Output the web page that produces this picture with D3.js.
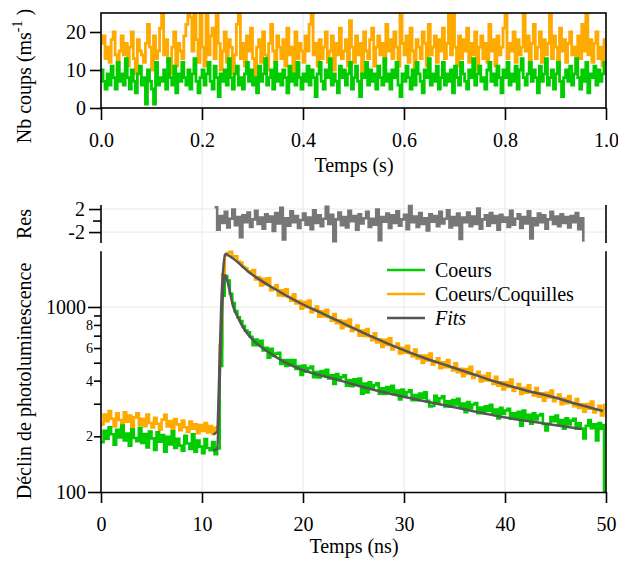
<!DOCTYPE html>
<html><head><meta charset="utf-8">
<script src="https://cdn.jsdelivr.net/npm/d3@7"></script>
<style>
body{margin:0;background:#fff}
svg{display:block}
text{font-family:"Liberation Serif","Times New Roman",serif;fill:#000}
</style>
</head><body>
<svg id="c" width="618" height="567"></svg>
<script>
// ---------- DATA ----------
// Top panel: intensity trace (counts per ms), bins of 4 ms from 0 to 1 s
const traceStepS = 0.004;
const traceOrange = [
17,19,13,16,12,18,20,14,10,15,
19,14,17,11,16,20,13,9,18,15,
14,12,17,22,16,10,19,13,15,21,
25,14,18,12,9,16,20,11,17,15,
13,19,22,25,24,15,25,18,12,25,
16,11,25,14,19,21,13,25,17,10,
15,20,12,18,16,9,14,22,25,13,
17,11,19,15,21,13,8,16,18,12,
20,14,10,17,22,15,12,19,16,13,
18,11,21,14,16,9,20,13,17,15,
12,19,15,22,25,14,17,11,18,13,
16,20,12,15,19,10,17,14,21,13,
15,18,11,23,16,12,19,14,17,9,
20,15,13,18,21,11,16,19,14,17,
12,22,15,18,13,20,16,11,25,17,
14,19,12,21,15,10,18,16,13,20,
17,11,22,14,16,19,12,18,15,21,
13,17,25,14,25,16,11,19,13,18,
15,21,12,17,14,20,10,16,19,13,
17,12,22,15,18,11,19,14,16,21,
25,13,17,15,20,12,18,14,16,25,
15,19,11,17,22,13,16,20,12,18,
14,17,25,13,19,16,11,21,15,18,
12,17,20,14,16,9,19,13,22,15,
25,14,18,12,17,20,13,16,11,18,
15];
const traceGreen = [
10,7,5,9,6,11,8,5,12,7,
9,6,13,8,5,10,7,4,9,11,
6,8,1,10,7,5,1,12,6,8,
7,10,5,13,8,6,11,4,9,7,
12,8,6,10,5,9,13,7,4,8,
10,6,9,12,7,5,11,8,3,9,
7,10,6,13,8,5,9,11,6,8,
5,9,12,7,10,6,8,4,11,7,
9,13,6,8,10,5,12,7,9,6,
10,8,4,11,7,9,6,12,8,5,
9,7,11,6,10,8,3,9,12,7,
5,10,8,13,6,9,7,4,11,8,
10,6,9,12,5,8,11,7,3,9,
8,12,6,10,7,9,5,11,8,6,
13,7,9,5,10,8,12,6,3,9,
7,11,8,5,10,6,12,9,7,4,
10,8,13,6,9,7,11,5,8,12,
6,9,7,10,4,11,8,6,12,9,
7,5,10,8,13,6,9,11,7,8,
5,10,12,7,9,6,11,8,4,10,
8,12,6,9,7,11,5,10,13,8,
6,9,12,7,10,8,4,11,7,9,
13,6,8,10,5,9,12,7,3,8,
10,7,11,6,9,13,8,5,10,7,
12,4,9,8,11,6,10,7,9,12,
11];
const traceTicks = [0, 0.2, 0.4, 0.6, 0.8, 1.0];
const traceYTicks = [0, 10, 20];

// Decay panel: counts per 0.25 ns bin, from 0 to 50 ns
const decayStepNs = 0.25;
const decayOrange = [
232,262,241,274,249,226,266,245,234,270,
240,259,224,253,266,231,249,227,262,236,
223,252,234,217,246,261,226,242,219,248,
232,216,243,224,211,240,220,232,208,230,
214,236,210,227,206,222,
225,620,1500,1900,1960,1990,1870,1880,1760,1740,1650,1620,1560,1530,
1585,1407,1451,1309, 1421,1325,1431,1232, 1270,1311,1154,1230, 1149,1247,1134,1080,
1171,1044,1081,978, 1065,998,1082,937, 970,1004,885,948, 888,965,881,842,
917,818,848,769, 839,788,855,742, 770,795,700,747, 698,760,693,662,
721,644,669,608, 664,624,678,589, 612,635,561,602, 566,616,563,540,
588,527,547,498, 546,514,561,487, 508,528,467,502, 472,516,472,454,
496,444,463,422, 462,435,475,413, 430,447,396,425, 401,438,400,384,
420,376,392,358, 392,370,405,352, 368,383,339,365, 344,377,346,333,
365,327,342,312, 344,324,354,310, 323,336,298,320, 302,330,303,291,
318,285,298,272, 299,282,308,269, 281,292,259,278,
300];
const decayGreen = [
186,214,194,224,205,180,217,197,229,190,
207,178,218,196,188,222,184,206,174,212,
195,169,210,187,203,165,199,181,213,173,
194,178,167,201,183,171,205,165,190,176,
162,193,173,168,186,160,
172,480,1150,1470,1390,1180,1050,950,880,840,790,745,730,690,
622,667,621,657, 582,601,532,594, 544,560,566,492, 517,480,517,485,
516,463,480,429, 483,447,467,476, 418,445,416,451, 426,457,411,428,
384,434,402,418, 427,376,401,373, 406,383,411,340, 386,345,392,363,
378,387,340,364, 339,369,349,375, 338,353,316,358, 332,347,355,313,
334,313,340,322, 346,311,290,292, 331,307,321,329, 290,309,289,314,
297,319,288,301, 270,306,284,297, 303,267,286,267, 291,275,296,267,
279,250,285,264, 276,282,249,266, 249,271,228,276, 249,261,234,266,
247,259,264,233, 215,234,254,241, 259,234,245,220, 250,232,243,249,
220,235,220,195, 228,245,221,232, 190,236,220,230,
100];
const decayTicks = [0, 10, 20, 30, 40, 50];

// Fits (time ns, counts)
const fitGreenT = [11.1,11.5,11.7,11.9,12.1,12.3,12.7,13.1,13.6,14.1,15.2,16.4,18,19.7,21.5,23,26,29.6,33,36.2,40.2,44,47.6];
const fitGreenV = [168,171,320,750,1250,1490,1250,1000,870,770,650,580,510,462,430,410,368,330,302,278,252,234,219];
const fitOrangeT = [11.1,11.5,11.7,11.9,12.1,12.3,13,14.75,17,19.7,21.7,23.7,26.6,29.6,32,34.55,37,39.5,42,44.75,47.2,49.7];
const fitOrangeV = [205,212,420,1000,1600,1934,1840,1527,1270,1051,935,830,700,595,530,477,430,388,355,326,298,274];

// Residuals, 0.25 ns bins from 11.25 ns
const resStartNs = 11.25;
const residuals = [
2.3,-1.6,0.8,-0.4,1.5,-1.2,0.3,1.9,-0.8,0.6,
-2.9,0.9,-0.3,1.4,-1.1,0.2,1.7,-0.6,0.5,-1.4,
1.1,-0.2,0.7,-1.8,1.3,-0.5,2.2,-3.3,0.4,-0.9,
1.6,-0.3,0.8,-1.3,0.1,1.2,-0.7,0.5,-1.5,1.8,
-0.4,0.9,-1.0,0.3,2.4,-0.6,1.0,-3.6,0.2,1.4,
-0.8,0.6,-1.2,1.7,-0.1,0.8,-1.6,1.1,-0.5,0.4,
1.5,-1.1,0.3,-0.7,1.9,-3.4,0.6,-0.2,1.2,-1.3,
0.9,-0.4,1.6,-0.9,0.2,1.0,-1.5,2.5,-0.3,0.7,
-1.1,1.3,-0.6,0.4,-1.7,1.1,-0.2,0.8,-1.0,1.5,
-0.5,0.3,1.8,-1.2,0.6,-0.8,1.2,-3.2,0.5,-0.3,
1.4,-1.0,0.7,-0.6,2.1,-1.4,0.2,0.9,-0.9,1.3,
-0.4,0.8,-1.6,1.0,-0.2,0.5,-1.1,1.7,-0.7,0.3,
1.1,-1.3,0.6,-0.5,1.6,-3.1,0.4,-0.8,1.2,-0.3,
0.9,-1.4,0.2,1.5,-0.6,0.7,-1.0,1.1,-0.4,0.6,
-1.2,0.8,-0.3,1.3,-1.5,0.4,-3.7];
const resTicks = [2, -2];

const legendLabels = ["Coeurs", "Coeurs/Coquilles", "Fits"];
const colGreen = "#00cc00", colOrange = "#ffaa00", colFit = "#555555", colRes = "#777777", colGrid = "#e8e8e8";

// ---------- LAYOUT ----------
const svg = d3.select("#c");
const X0 = 101, X1 = 606;
const pTop = {y0: 13, y1: 108};
const pRes = {y0: 205, y1: 243};
const pDec = {y0: 251.3, y1: 492};

const xT = d3.scaleLinear().domain([0, 1]).range([X0, X1]);
const yT = d3.scaleLinear().domain([0, 25]).range([pTop.y1, pTop.y0]);
const xD = d3.scaleLinear().domain([0, 50]).range([X0, X1]);
const yR = d3.scaleLinear().domain([-3.9, 2.7]).range([pRes.y1, pRes.y0]);
const yD = d3.scaleLog().domain([100, 2000]).range([pDec.y1, pDec.y0]);

// ---------- GRID ----------
const grid = svg.append("g").attr("stroke", colGrid).attr("stroke-width", 1);
decayTicks.filter(d => d > 0 && d < 50).forEach(d => {
  grid.append("line").attr("x1", xD(d)).attr("x2", xD(d)).attr("y1", pTop.y0).attr("y2", pDec.y1);
});
traceYTicks.filter(d => d > 0).forEach(d => {
  grid.append("line").attr("x1", X0).attr("x2", X1).attr("y1", yT(d)).attr("y2", yT(d));
});
resTicks.forEach(d => {
  grid.append("line").attr("x1", X0).attr("x2", X1).attr("y1", yR(d)).attr("y2", yR(d));
});
grid.append("line").attr("x1", X0).attr("x2", X1).attr("y1", yD(1000)).attr("y2", yD(1000));

// ---------- CLIPS ----------
const defs = svg.append("defs");
defs.append("clipPath").attr("id", "clipT").append("rect")
  .attr("x", X0).attr("y", pTop.y0).attr("width", X1 - X0).attr("height", pTop.y1 - pTop.y0);
defs.append("clipPath").attr("id", "clipD").append("rect")
  .attr("x", X0).attr("y", pDec.y0 - 2).attr("width", X1 - X0).attr("height", pDec.y1 - pDec.y0 + 2);

// ---------- TOP PANEL ----------
const stepLineT = d3.line().curve(d3.curveStepAfter)
  .x((d, i) => xT(i * traceStepS)).y(d => yT(d));
const gT = svg.append("g").attr("clip-path", "url(#clipT)");
gT.append("path").datum(traceOrange).attr("d", stepLineT)
  .attr("fill", "none").attr("stroke", colOrange).attr("stroke-width", 2.8);
gT.append("path").datum(traceGreen).attr("d", stepLineT)
  .attr("fill", "none").attr("stroke", colGreen).attr("stroke-width", 2.8);

svg.append("rect").attr("x", X0).attr("y", pTop.y0).attr("width", X1 - X0).attr("height", pTop.y1 - pTop.y0)
  .attr("fill", "none").attr("stroke", "#000").attr("stroke-width", 1.6);

function styleAxis(g, fs) {
  g.select(".domain").attr("stroke", "#000").attr("stroke-width", 1.6);
  g.selectAll(".tick line").attr("stroke", "#000").attr("stroke-width", 1.6);
  g.selectAll(".tick text").attr("font-size", fs).attr("font-family", "Liberation Serif, serif").attr("fill", "#000");
}

const axTB = svg.append("g").attr("transform", `translate(0,${pTop.y1})`)
  .call(d3.axisBottom(xT).tickValues(traceTicks).tickSize(12).tickSizeOuter(0).tickPadding(13).tickFormat(d3.format(".1f")));
styleAxis(axTB, 20);
axTB.select(".domain").remove();
const axTL = svg.append("g").attr("transform", `translate(${X0},0)`)
  .call(d3.axisLeft(yT).tickValues(traceYTicks).tickSize(11).tickSizeOuter(0).tickPadding(4));
styleAxis(axTL, 20);
axTL.select(".domain").remove();

svg.append("text").attr("x", 354).attr("y", 172).attr("text-anchor", "middle").attr("font-size", 20).text("Temps (s)");
const tTitle = svg.append("text").attr("transform", "translate(31,76) rotate(-90)").attr("text-anchor", "middle").attr("font-size", 20);
tTitle.append("tspan").text("Nb coups (ms");
tTitle.append("tspan").attr("dy", -9).attr("font-size", 14).text("-1");
tTitle.append("tspan").attr("dy", 9).text(" )");

// ---------- RESIDUALS ----------
const stepLineR = d3.line().curve(d3.curveStepAfter)
  .x((d, i) => xD(resStartNs + i * decayStepNs)).y(d => yR(d));
svg.append("path").datum(residuals).attr("d", stepLineR)
  .attr("fill", "none").attr("stroke", colRes).attr("stroke-width", 2.6);

const axRL = svg.append("g").attr("transform", `translate(${X0},0)`)
  .call(d3.axisLeft(yR).tickValues(resTicks).tickSize(12).tickSizeOuter(0).tickPadding(4).tickFormat(d => d < 0 ? "-" + Math.abs(d) : String(d)));
styleAxis(axRL, 20);
axRL.select(".domain").remove();
const axRL2 = svg.append("g").attr("transform", `translate(${X0},0)`)
  .call(d3.axisLeft(yR).tickValues([0]).tickSize(8).tickSizeOuter(0).tickFormat(""));
styleAxis(axRL2, 20);
axRL2.select(".domain").remove();
svg.append("line").attr("x1", X0).attr("x2", X0).attr("y1", pRes.y0).attr("y2", pRes.y1).attr("stroke", "#000").attr("stroke-width", 1.6);
svg.append("line").attr("x1", X1).attr("x2", X1).attr("y1", pRes.y0).attr("y2", pRes.y1).attr("stroke", "#000").attr("stroke-width", 1.6);
svg.append("text").attr("transform", `translate(31,${(pRes.y0 + pRes.y1) / 2}) rotate(-90)`).attr("text-anchor", "middle").attr("font-size", 20).text("Res");

// ---------- DECAY PANEL ----------
const stepLineD = d3.line().curve(d3.curveStepAfter)
  .x((d, i) => Math.min(xD(i * decayStepNs), X1 - 2)).y(d => yD(d));
const gD = svg.append("g").attr("clip-path", "url(#clipD)");
gD.append("path").datum(decayOrange).attr("d", stepLineD)
  .attr("fill", "none").attr("stroke", colOrange).attr("stroke-width", 2.6);
gD.append("path").datum(decayGreen).attr("d", stepLineD)
  .attr("fill", "none").attr("stroke", colGreen).attr("stroke-width", 2.6);
const fitLine = d3.line().curve(d3.curveMonotoneX).x(d => xD(d[0])).y(d => yD(d[1]));
gD.append("path").datum(d3.zip(fitOrangeT, fitOrangeV)).attr("d", fitLine)
  .attr("fill", "none").attr("stroke", colFit).attr("stroke-width", 2.5);
gD.append("path").datum(d3.zip(fitGreenT, fitGreenV)).attr("d", fitLine)
  .attr("fill", "none").attr("stroke", colFit).attr("stroke-width", 2.5);

const axDB = svg.append("g").attr("transform", `translate(0,${pDec.y1})`)
  .call(d3.axisBottom(xD).tickValues(decayTicks).tickSize(11).tickSizeOuter(0).tickPadding(14));
styleAxis(axDB, 20);
const axDL = svg.append("g").attr("transform", `translate(${X0},0)`)
  .call(d3.axisLeft(yD).tickValues([100, 1000]).tickSize(13).tickSizeOuter(0).tickPadding(2).tickFormat(d3.format("d")));
styleAxis(axDL, 20);
axDL.select(".domain").remove();
const minorVals = [200, 300, 400, 500, 600, 700, 800, 900];
const axDL2 = svg.append("g").attr("transform", `translate(${X0},0)`)
  .call(d3.axisLeft(yD).tickValues(minorVals).tickSize(7).tickSizeOuter(0).tickPadding(1)
    .tickFormat(d => { const m = Math.round(d / 100); return (m % 2 === 0) ? String(m) : ""; }));
styleAxis(axDL2, 14);
axDL2.select(".domain").remove();
svg.append("line").attr("x1", X0).attr("x2", X0).attr("y1", pDec.y0).attr("y2", pDec.y1).attr("stroke", "#000").attr("stroke-width", 1.6);
svg.append("line").attr("x1", X1).attr("x2", X1).attr("y1", pDec.y0).attr("y2", pDec.y1).attr("stroke", "#000").attr("stroke-width", 1.6);

svg.append("text").attr("x", 354).attr("y", 553).attr("text-anchor", "middle").attr("font-size", 20).text("Temps (ns)");
svg.append("text").attr("transform", "translate(31,381) rotate(-90)").attr("text-anchor", "middle").attr("font-size", 20).text("Déclin de photoluminescence");

// ---------- LEGEND ----------
const legColors = [colGreen, colOrange, colFit];
const legY = [270, 294, 318];
legendLabels.forEach((lab, i) => {
  svg.append("line").attr("x1", 387).attr("x2", 425).attr("y1", legY[i]).attr("y2", legY[i])
    .attr("stroke", legColors[i]).attr("stroke-width", 2.5);
  svg.append("text").attr("x", 435).attr("y", legY[i] + 7).attr("font-size", 20)
    .attr("font-style", i === 2 ? "italic" : "normal").text(lab);
});
</script>
</body></html>
